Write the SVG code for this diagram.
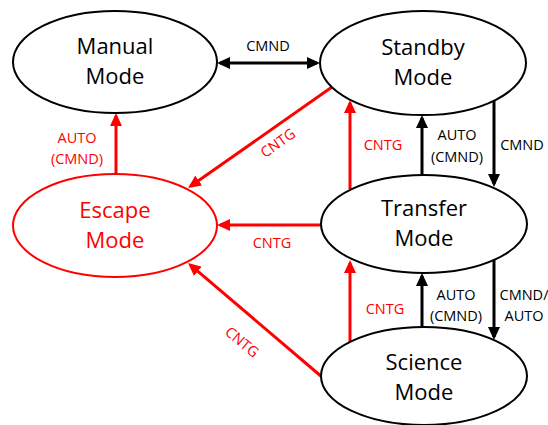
<svg xmlns="http://www.w3.org/2000/svg" width="548" height="425" viewBox="0 0 548 425">
<style>
.node{fill:#fff;stroke:#000;stroke-width:2}
.node.red{stroke:#f00}
.nt{font-family:"Open Sans","Liberation Sans",sans-serif;font-size:22px;text-anchor:middle;fill:#000}
.nt.red{fill:#f00}
.lb{font-family:"Open Sans","Liberation Sans",sans-serif;font-size:14.5px;text-anchor:middle;fill:#000}
.lb.red{fill:#f00}
.ek{stroke:#000;stroke-width:3;fill:none}
.er{stroke:#f00;stroke-width:3;fill:none}
</style>
<defs>
<marker id="ak" markerUnits="userSpaceOnUse" markerWidth="13" markerHeight="12" refX="10" refY="6" orient="auto-start-reverse"><path d="M0,0 L13,6 L0,12 z" fill="#000"/></marker>
<marker id="ar" markerUnits="userSpaceOnUse" markerWidth="13" markerHeight="12" refX="10" refY="6" orient="auto"><path d="M0,0 L13,6 L0,12 z" fill="#f00"/></marker>
</defs>
<rect width="548" height="425" fill="#fff"/>
<g id="connectors">
<line class="ek" x1="220" y1="63" x2="317" y2="63" marker-start="url(#ak)" marker-end="url(#ak)"/>
<line class="er" x1="332" y1="87" x2="190.5" y2="186.3" marker-end="url(#ar)"/>
<line class="er" x1="321" y1="225" x2="220" y2="225" marker-end="url(#ar)"/>
<line class="er" x1="322" y1="377" x2="190.3" y2="264.9" marker-end="url(#ar)"/>
<line class="er" x1="116" y1="174" x2="116" y2="116" marker-end="url(#ar)"/>
<line class="er" x1="350" y1="189" x2="350" y2="103" marker-end="url(#ar)"/>
<line class="ek" x1="422" y1="175" x2="422" y2="118" marker-end="url(#ak)"/>
<line class="ek" x1="494" y1="100" x2="494" y2="184" marker-end="url(#ak)"/>
<line class="er" x1="350" y1="342" x2="350" y2="263" marker-end="url(#ar)"/>
<line class="ek" x1="422" y1="327" x2="422" y2="276" marker-end="url(#ak)"/>
<line class="ek" x1="494" y1="259" x2="494" y2="337" marker-end="url(#ak)"/>
<text class="lb" x="268" y="51">CMND</text>
<text class="lb red" x="77" y="143">AUTO</text>
<text class="lb red" x="77" y="164">(CMND)</text>
<text class="lb red" transform="translate(278,143) rotate(-35)" x="0" y="5">CNTG</text>
<text class="lb red" x="383" y="150">CNTG</text>
<text class="lb" x="457" y="140">AUTO</text>
<text class="lb" x="457" y="162">(CMND)</text>
<text class="lb" x="522" y="150">CMND</text>
<text class="lb red" x="272" y="248">CNTG</text>
<text class="lb red" x="385" y="314">CNTG</text>
<text class="lb" x="456" y="300">AUTO</text>
<text class="lb" x="456" y="321">(CMND)</text>
<text class="lb" x="524" y="300">CMND/</text>
<text class="lb" x="524" y="321">AUTO</text>
<text class="lb red" transform="translate(242,342) rotate(40)" x="0" y="5">CNTG</text>
</g>
<g id="manual">
<ellipse class="node" cx="115" cy="62" rx="102" ry="51"/>
<text class="nt" x="115" y="54">Manual</text>
<text class="nt" x="115" y="84">Mode</text>
</g>
<g id="standby">
<ellipse class="node" cx="423" cy="63" rx="103" ry="52"/>
<text class="nt" x="423" y="55">Standby</text>
<text class="nt" x="423" y="85">Mode</text>
</g>
<g id="escape">
<ellipse class="node red" cx="115" cy="225.5" rx="102" ry="51.5"/>
<text class="nt red" x="115" y="218">Escape</text>
<text class="nt red" x="115" y="248">Mode</text>
</g>
<g id="transfer">
<ellipse class="node" cx="424" cy="224" rx="103" ry="49"/>
<text class="nt" x="424" y="216">Transfer</text>
<text class="nt" x="424" y="246">Mode</text>
</g>
<g id="science">
<ellipse class="node" cx="424" cy="376" rx="103" ry="49"/>
<text class="nt" x="424" y="370">Science</text>
<text class="nt" x="424" y="400">Mode</text>
</g>
</svg>
